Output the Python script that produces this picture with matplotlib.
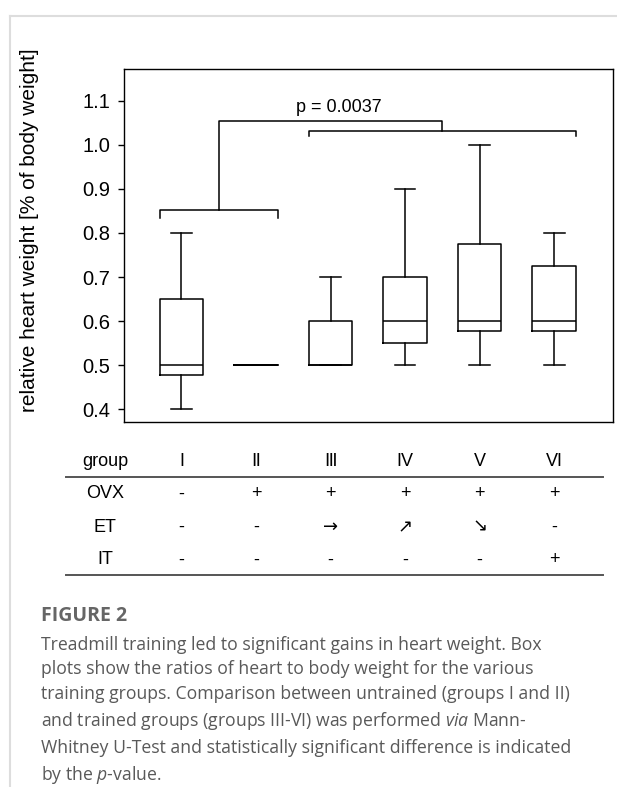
import matplotlib
matplotlib.use("Agg")
import matplotlib.pyplot as plt
from matplotlib.lines import Line2D
from matplotlib.transforms import blended_transform_factory

plt.rcParams['font.family'] = ['Liberation Sans', 'DejaVu Sans']
plt.rcParams['mathtext.fontset'] = 'custom'
plt.rcParams['mathtext.rm'] = 'Open Sans'
plt.rcParams['mathtext.it'] = 'Open Sans:italic'

groups = ["I", "Ⅱ", "Ⅲ", "IV", "V", "VI"]
whislo = [0.40, 0.50, 0.50, 0.50, 0.50, 0.50]
q1 = [0.478, 0.50, 0.50, 0.55, 0.577, 0.577]
med = [0.50, 0.50, 0.50, 0.60, 0.60, 0.60]
q3 = [0.65, 0.50, 0.60, 0.70, 0.775, 0.725]
whishi = [0.80, 0.50, 0.70, 0.90, 1.00, 0.80]

row_names = ["OVX", "ET", "IT"]
ovx = ["-", "+", "+", "+", "+", "+"]
et = ["-", "-", "→", "↗", "↘", "-"]
it = ["-", "-", "-", "-", "-", "+"]

p_text = "p = 0.0037"
caption = ("Treadmill training led to significant gains in heart weight. Box\n"
           "plots show the ratios of heart to body weight for the various\n"
           "training groups. Comparison between untrained (groups I and II)\n"
           "and trained groups (groups III-VI) was performed $\\it{via}$ Mann-\n"
           "Whitney U-Test and statistically significant difference is indicated\n"
           "by the $\\it{p}$-value.")

fig = plt.figure(figsize=(6.17, 7.87), dpi=100)
W, H = 617, 787
ax = fig.add_axes([124 / W, 1 - 422 / H, 489 / W, 353 / H])

stats = []
for i in range(len(groups)):
    stats.append(dict(whislo=whislo[i], q1=q1[i], med=med[i], q3=q3[i],
                      whishi=whishi[i], fliers=[]))
pos = list(range(1, len(groups) + 1))
lw = 1.1
ax.bxp(stats, positions=pos, widths=0.585, showfliers=False,
       boxprops=dict(color="black", linewidth=lw),
       whiskerprops=dict(color="black", linewidth=lw),
       capprops=dict(color="black", linewidth=lw),
       medianprops=dict(color="black", linewidth=lw),
       capwidths=0.28)

ax.set_xlim(0.229, 6.79)
ax.set_ylim(0.371, 1.172)
ax.set_yticks([0.4, 0.5, 0.6, 0.7, 0.8, 0.9, 1.0, 1.1])
ax.set_yticklabels(["0.4", "0.5", "0.6", "0.7", "0.8", "0.9", "1.0", "1.1"])
ax.set_xticks([])
ax.tick_params(axis="y", direction="out", length=4.3, width=1, pad=5.5,
               labelsize=14.5)
for s in ax.spines.values():
    s.set_linewidth(1.0)
ax.set_ylabel("relative heart weight [% of body weight]", fontsize=15)
ax.yaxis.set_label_coords(-0.174, 0.544)

# significance brackets
hw = 0.29
ax.plot([1 - hw, 1 - hw, 2 + hw, 2 + hw], [0.834, 0.851, 0.851, 0.834],
        color="black", lw=lw)
ax.plot([3 - hw, 3 - hw, 6 + hw, 6 + hw], [1.019, 1.031, 1.031, 1.019],
        color="black", lw=lw)
ax.plot([1.5, 1.5, 4.5, 4.5], [0.851, 1.053, 1.053, 1.031],
        color="black", lw=lw)
ax.text(3.11, 1.066, p_text, ha="center", va="bottom", fontsize=13)

# table under the plot
tr = blended_transform_factory(ax.transData, fig.transFigure)
label_x = 105 / W
rows_y = [1 - 494 / H, 1 - 527 / H, 1 - 560 / H]
head_y = 1 - 462 / H
fig.text(label_x, head_y, "group", ha="center", va="center", fontsize=13)
for j, g in enumerate(groups):
    fig.text(pos[j], head_y, g, transform=tr, ha="center", va="center",
             fontsize=13)
for r, (name, vals) in enumerate(zip(row_names, [ovx, et, it])):
    fig.text(label_x, rows_y[r], name, ha="center", va="center", fontsize=13)
    for j, v in enumerate(vals):
        fam = ["DejaVu Sans"] if v in ("→", "↗", "↘") else None
        fig.text(pos[j], rows_y[r], v, transform=tr, ha="center",
                 va="center", fontsize=13, family=fam)
for yy in [1 - 477 / H, 1 - 575 / H]:
    fig.add_artist(Line2D([66 / W, 603 / W], [yy, yy], color="#555555",
                          lw=1.4, transform=fig.transFigure))

# frame of the page
fig.add_artist(Line2D([10 / W, 1], [1 - 16 / H, 1 - 16 / H], color="#dddddd",
                      lw=1.5, transform=fig.transFigure))
fig.add_artist(Line2D([10 / W, 10 / W], [0, 1 - 16 / H], color="#dddddd",
                      lw=1.5, transform=fig.transFigure))

# caption
fig.text(41 / W, 1 - 616 / H, "FIGURE 2", fontsize=14, fontweight="bold",
         color="#666666", va="center", family=["Open Sans", "DejaVu Sans"])
fig.text(41 / W, 1 - 636 / H, caption, fontsize=12.7, color="#595959",
         va="top", linespacing=1.46, family=["Open Sans", "DejaVu Sans"])

fig.savefig("out.png", dpi=100)
